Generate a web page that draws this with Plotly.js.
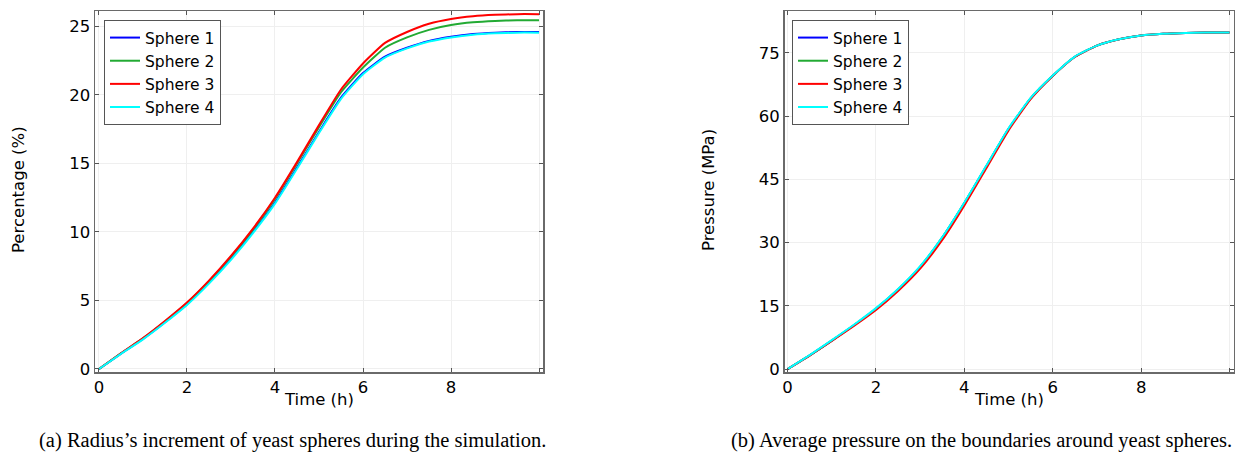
<!DOCTYPE html>
<html>
<head>
<meta charset="utf-8">
<script src="https://cdn.plot.ly/plotly-3.0.1.min.js"></script>
<style>html,body{margin:0;padding:0;background:#fff;}#chart{width:1245px;height:452px;}</style>
</head>
<body>
<div id="chart"></div>
<script>
// Time (h)
const time = [0, 0.5, 1, 1.5, 2, 2.5, 3, 3.5, 4, 4.5, 5, 5.5, 6, 6.5, 7, 7.5, 8, 8.5, 9, 9.5, 10];

// (a) Radius increment (%)
const radius1 = [0, 1.12, 2.2, 3.42, 4.73, 6.3, 8.05, 10.0, 12.15, 14.7, 17.3, 19.8, 21.6, 22.8, 23.45, 23.95, 24.25, 24.45, 24.55, 24.6, 24.6];
const radius2 = [0, 1.14, 2.23, 3.47, 4.81, 6.4, 8.2, 10.18, 12.42, 15.0, 17.65, 20.2, 22.0, 23.45, 24.2, 24.75, 25.1, 25.3, 25.4, 25.45, 25.45];
const radius3 = [0, 1.15, 2.25, 3.5, 4.85, 6.45, 8.25, 10.25, 12.5, 15.1, 17.8, 20.4, 22.3, 23.8, 24.6, 25.2, 25.55, 25.75, 25.85, 25.9, 25.9];
const radius4 = [0, 1.1, 2.16, 3.37, 4.67, 6.23, 7.97, 9.92, 12.07, 14.62, 17.22, 19.72, 21.52, 22.73, 23.4, 23.9, 24.2, 24.4, 24.5, 24.55, 24.55];

// (b) Average pressure (MPa)
const pressure1 = [0, 3.25, 6.75, 10.38, 14.3, 18.85, 24.25, 31.15, 39.35, 48.15, 56.95, 64.2, 69.55, 74.05, 76.7, 78.2, 79.1, 79.5, 79.7, 79.8, 79.8];
const pressure2 = [0, 3.25, 6.75, 10.38, 14.3, 18.85, 24.25, 31.15, 39.35, 48.15, 56.95, 64.2, 69.55, 74.05, 76.7, 78.2, 79.1, 79.5, 79.7, 79.8, 79.8];
const pressure3 = [0, 3.2, 6.65, 10.2, 14.0, 18.5, 23.8, 30.6, 38.8, 47.7, 56.6, 64.0, 69.5, 74.0, 76.7, 78.2, 79.1, 79.5, 79.7, 79.8, 79.8];
const pressure4 = [0, 3.3, 6.85, 10.5, 14.45, 19.0, 24.4, 31.3, 39.5, 48.3, 57.1, 64.3, 69.6, 74.1, 76.7, 78.2, 79.1, 79.5, 79.7, 79.8, 79.8];

const seriesNames = ["Sphere 1", "Sphere 2", "Sphere 3", "Sphere 4"];
const seriesColors = ["#0000ff", "#22aa33", "#ff0000", "#00ffff"];

const xTickVals = [0, 2, 4, 6, 8, 10];
const xTickText = ["0", "2", "4", "6", "8", ""];
const yTickVals1 = [0, 5, 10, 15, 20, 25];
const yTickVals2 = [0, 15, 30, 45, 60, 75];

const radiusSeries = [radius1, radius2, radius3, radius4];
const pressureSeries = [pressure1, pressure2, pressure3, pressure4];

const traces = [];
radiusSeries.forEach((ys, i) => {
  traces.push({x: time, y: ys, type: "scatter", mode: "lines", name: seriesNames[i],
    line: {color: seriesColors[i], width: 2, shape: "spline", smoothing: 0.5},
    xaxis: "x", yaxis: "y", legend: "legend"});
});
pressureSeries.forEach((ys, i) => {
  traces.push({x: time, y: ys, type: "scatter", mode: "lines", name: seriesNames[i],
    line: {color: seriesColors[i], width: 2, shape: "spline", smoothing: 0.5},
    xaxis: "x2", yaxis: "y2", legend: "legend2"});
});

const font = {family: "DejaVu Sans", size: 16.5, color: "#000"};
const legFont = {family: "DejaVu Sans", size: 15.5, color: "#000"};
const axBase = {
  showline: true, linecolor: "#6a6a6a", linewidth: 1.5, mirror: "ticks",
  ticks: "inside", ticklen: 4, tickcolor: "#555", tickwidth: 1,
  showgrid: true, gridcolor: "#efefef", gridwidth: 1, zeroline: false,
  tickfont: font, automargin: false
};

const H = 452, W = 1245;
const capFont = {family: "Liberation Serif", size: 20.5, color: "#000"};
const layout = {
  width: W, height: H,
  margin: {l: 0, r: 0, t: 0, b: 0},
  paper_bgcolor: "#fff", plot_bgcolor: "#fff",
  font: font,
  xaxis: Object.assign({}, axBase, {domain: [95/W, 543/W], range: [-0.09, 10.09], tickvals: xTickVals, ticktext: xTickText, anchor: "y"}),
  yaxis: Object.assign({}, axBase, {domain: [1-372/H, 1-11/H], range: [-0.22, 26.13], tickvals: yTickVals1, anchor: "x"}),
  xaxis2: Object.assign({}, axBase, {domain: [784.5/W, 1233.5/W], range: [-0.07, 10.09], tickvals: xTickVals, ticktext: xTickText, anchor: "y2"}),
  yaxis2: Object.assign({}, axBase, {domain: [1-372/H, 1-11/H], range: [-0.7, 84.9], tickvals: yTickVals2, anchor: "x2"}),
  legend: {x: 104/W, y: 1-20/H, xanchor: "left", yanchor: "top", bgcolor: "#fff", bordercolor: "#555", borderwidth: 1,
    font: legFont, tracegroupgap: 0, itemwidth: 30},
  legend2: {x: 792/W, y: 1-20/H, xanchor: "left", yanchor: "top", bgcolor: "#fff", bordercolor: "#555", borderwidth: 1,
    font: legFont, tracegroupgap: 0, itemwidth: 30},
  showlegend: true,
  annotations: [
    {text: "Percentage (%)", xref: "paper", yref: "paper", x: 18/W, y: 1-190/H, textangle: -90, showarrow: false, font: font, xanchor: "center", yanchor: "middle"},
    {text: "Pressure (MPa)", xref: "paper", yref: "paper", x: 708/W, y: 1-190/H, textangle: -90, showarrow: false, font: font, xanchor: "center", yanchor: "middle"},
    {text: "Time (h)", xref: "paper", yref: "paper", x: 319/W, y: 1-399/H, showarrow: false, font: font, xanchor: "center", yanchor: "middle"},
    {text: "Time (h)", xref: "paper", yref: "paper", x: 1009/W, y: 1-399/H, showarrow: false, font: font, xanchor: "center", yanchor: "middle"},
    {text: "(a) Radius’s increment of yeast spheres during the simulation.", xref: "paper", yref: "paper", x: 292/W, y: 1-440/H, showarrow: false,
      font: capFont, xanchor: "center", yanchor: "middle"},
    {text: "(b) Average pressure on the boundaries around yeast spheres.", xref: "paper", yref: "paper", x: 981/W, y: 1-440/H, showarrow: false,
      font: capFont, xanchor: "center", yanchor: "middle"}
  ]
};

Plotly.newPlot("chart", traces, layout, {displayModeBar: false, staticPlot: true});
</script>
</body>
</html>
